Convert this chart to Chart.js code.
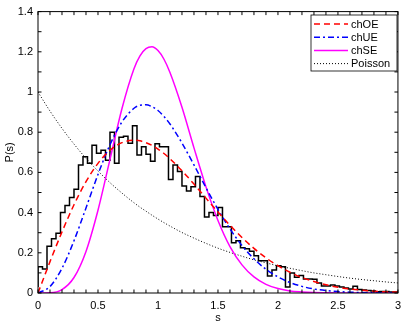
<!DOCTYPE html>
<html>
<head>
<meta charset="utf-8">
<script src="https://cdn.jsdelivr.net/npm/chart.js@4"></script>
<style>
  html, body { margin: 0; padding: 0; background: #fff; }
  #wrap { width: 407px; height: 325px; }
</style>
</head>
<body>
<div id="wrap"><canvas id="chart" width="407" height="325"></canvas></div>
<script>
// histogram of spacings, bins of equal width starting at s = 0
const binWidth = 0.0375;
const histHeights = [
  0.03, 0.13, 0.12, 0.232, 0.27, 0.297, 0.40, 0.435, 0.475, 0.516,
  0.637, 0.678, 0.645, 0.735, 0.695, 0.71, 0.66, 0.80, 0.645, 0.775,
  0.78, 0.745, 0.832, 0.686, 0.727, 0.69, 0.655, 0.743, 0.727, 0.727,
  0.565, 0.637, 0.605, 0.532, 0.507, 0.528, 0.58, 0.48, 0.378, 0.40,
  0.385, 0.425, 0.33, 0.33, 0.25, 0.26, 0.225, 0.22, 0.208, 0.185,
  0.16, 0.16, 0.085, 0.114, 0.135, 0.13, 0.03, 0.10, 0.078, 0.087,
  0.07, 0.07, 0.068, 0.05, 0.035, 0.035, 0.04, 0.035, 0.03, 0.025,
  0.02, 0.033, 0.018, 0.015, 0.012, 0.01, 0.006, 0.008, 0.008, 0.005
];

// curves sampled at these s values
const sGrid = [0, 0.1, 0.2, 0.3, 0.4, 0.5, 0.6, 0.7, 0.8, 0.85, 0.9, 0.95, 1.0, 1.05,
  1.1, 1.2, 1.3, 1.4, 1.5, 1.6, 1.7, 1.8, 1.9, 2.0,
  2.1, 2.2, 2.3, 2.4, 2.5, 2.6, 2.7, 2.8, 2.9, 3.0];
const chOE = [0, 0.156, 0.304, 0.439, 0.554, 0.645, 0.710, 0.748, 0.760, 0.757, 0.748, 0.735, 0.716, 0.694,
  0.668, 0.608, 0.542, 0.472, 0.403, 0.337, 0.276, 0.222, 0.175, 0.136,
  0.103, 0.077, 0.057, 0.041, 0.029, 0.020, 0.014, 0.009, 0.006, 0.004];
const chUE = [0, 0.032, 0.123, 0.260, 0.423, 0.590, 0.738, 0.851, 0.919, 0.934, 0.936, 0.927, 0.908, 0.878,
  0.841, 0.746, 0.637, 0.524, 0.416, 0.319, 0.236, 0.170, 0.118, 0.080,
  0.052, 0.033, 0.020, 0.012, 0.007, 0.004, 0.002, 0.001, 0.0006, 0.0003];
const chSE = [0, 0.001, 0.017, 0.077, 0.207, 0.412, 0.665, 0.918, 1.116, 1.180, 1.216, 1.225, 1.206, 1.163,
  1.097, 0.924, 0.722, 0.528, 0.361, 0.231, 0.140, 0.080, 0.043, 0.022,
  0.010, 0.005, 0.002, 0.001, 0.0003, 0, 0, 0, 0, 0];
const poisson = [1, 0.905, 0.819, 0.741, 0.670, 0.607, 0.549, 0.497, 0.449, 0.427, 0.407, 0.387, 0.368, 0.350,
  0.333, 0.301, 0.273, 0.247, 0.223, 0.202, 0.183, 0.165, 0.150, 0.135,
  0.123, 0.111, 0.100, 0.091, 0.082, 0.074, 0.067, 0.061, 0.055, 0.050];

const legendLabels = ["chOE", "chUE", "chSE", "Poisson"];

const FONT = '"Liberation Sans", Arial, Helvetica, sans-serif';

const histPoints = histHeights.map((h, i) => ({ x: i * binWidth, y: h }));
histPoints.push({ x: histHeights.length * binWidth, y: histHeights[histHeights.length - 1] });

const curve = (ys) => sGrid.map((s, i) => ({ x: s, y: ys[i] }));

// tick text like matlab: 0, 0.5, 1, 1.5 ...
const tickText = (v) => String(Math.round(v * 10) / 10);

// inward ticks on all four sides plus the box, matlab style
const boxTicks = {
  id: "boxTicks",
  afterDraw(chart) {
    const { ctx, chartArea: a, scales } = chart;
    const xs = scales.x, ys = scales.y;
    ctx.save();
    ctx.strokeStyle = "#000";
    ctx.lineWidth = 1;
    ctx.strokeRect(a.left, a.top, a.right - a.left, a.bottom - a.top);
    ctx.beginPath();
    for (let i = 0; i <= 30; i++) {
      const px = xs.getPixelForValue(i / 10);
      ctx.moveTo(px, a.bottom); ctx.lineTo(px, a.bottom - 3.5);
      ctx.moveTo(px, a.top); ctx.lineTo(px, a.top + 3.5);
    }
    for (let i = 0; i <= 14; i++) {
      const py = ys.getPixelForValue(i / 10);
      ctx.moveTo(a.left, py); ctx.lineTo(a.left + 3.5, py);
      ctx.moveTo(a.right, py); ctx.lineTo(a.right - 3.5, py);
    }
    ctx.stroke();

    // legend box in the upper right corner
    const bx = 311, by = 15, bw = 86, bh = 56;
    ctx.fillStyle = "#fff";
    ctx.fillRect(bx, by, bw, bh);
    ctx.lineWidth = 0.8;
    ctx.strokeRect(bx, by, bw, bh);
    ctx.font = "11px " + FONT;
    ctx.textBaseline = "middle";
    ctx.fillStyle = "#000";
    const curveSets = chart.data.datasets.slice(1);
    curveSets.forEach((ds, i) => {
      const y = by + 9 + i * 13.2;
      ctx.beginPath();
      ctx.strokeStyle = ds.borderColor;
      ctx.lineWidth = ds.borderWidth;
      ctx.setLineDash(ds.borderDash || []);
      ctx.moveTo(bx + 3, y);
      ctx.lineTo(bx + 37, y);
      ctx.stroke();
      ctx.setLineDash([]);
      ctx.fillText(legendLabels[i], bx + 40, y + 0.5);
    });
    ctx.restore();
  }
};

new Chart(document.getElementById("chart"), {
  type: "line",
  data: {
    datasets: [
      { data: histPoints, stepped: "after", borderColor: "#000", borderWidth: 1.5, order: 5 },
      { data: curve(chOE), borderColor: "#ff0000", borderWidth: 1.5, borderDash: [6, 4], order: 1, cubicInterpolationMode: "monotone" },
      { data: curve(chUE), borderColor: "#0000ff", borderWidth: 1.5, borderDash: [6, 3, 2, 3], order: 2, cubicInterpolationMode: "monotone" },
      { data: curve(chSE), borderColor: "#ff00ff", borderWidth: 1.5, order: 3, cubicInterpolationMode: "monotone" },
      { data: curve(poisson), borderColor: "#000", borderWidth: 1, borderDash: [1, 2], order: 4, cubicInterpolationMode: "monotone" }
    ]
  },
  options: {
    responsive: false,
    animation: false,
    parsing: false,
    elements: { point: { radius: 0 } },
    layout: { padding: { top: 5, right: 5, left: 0, bottom: 0 } },
    plugins: { legend: { display: false }, tooltip: { enabled: false } },
    scales: {
      x: {
        type: "linear",
        min: 0,
        max: 3,
        grid: { display: false, drawTicks: false },
        border: { display: false },
        ticks: { stepSize: 0.5, color: "#000", font: { family: FONT, size: 11 }, padding: 6, maxRotation: 0, callback: tickText },
        title: { display: true, text: "s", color: "#000", font: { family: FONT, size: 11 }, padding: { top: 0, bottom: 0 } },
        afterFit: (scale) => { scale.height = 32; }
      },
      y: {
        type: "linear",
        min: 0,
        max: 1.4,
        grid: { display: false, drawTicks: false },
        border: { display: false },
        ticks: { stepSize: 0.2, color: "#000", font: { family: FONT, size: 11 }, padding: 5, callback: tickText },
        title: { display: true, text: "P(s)", color: "#000", font: { family: FONT, size: 11 }, padding: { top: 3, bottom: 0 } },
        afterFit: (scale) => { scale.width = 38; }
      }
    }
  },
  plugins: [boxTicks]
});
</script>
</body>
</html>
